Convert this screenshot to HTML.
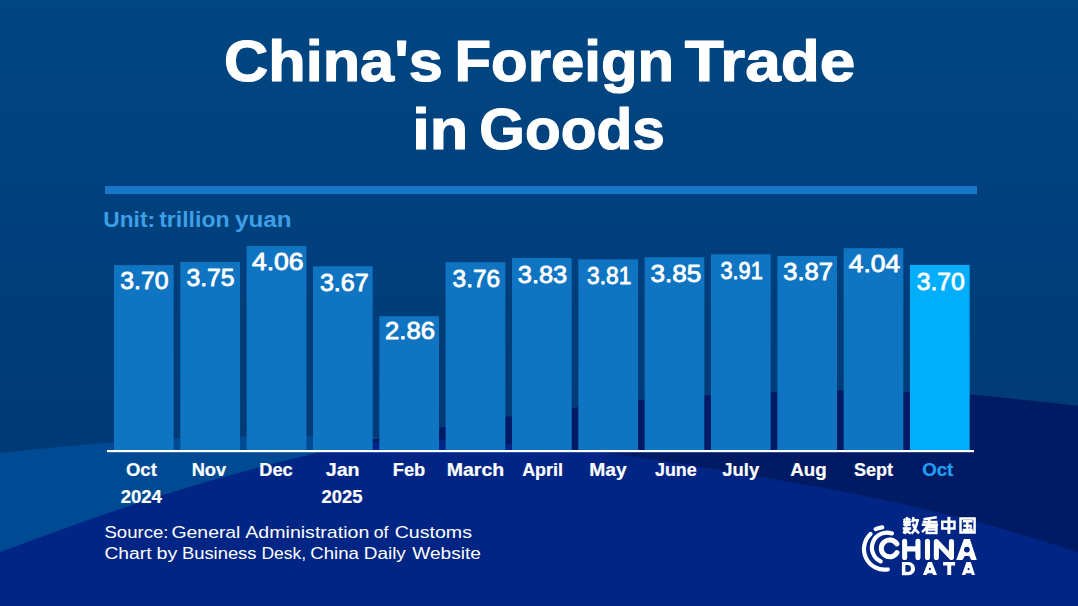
<!DOCTYPE html>
<html><head><meta charset="utf-8"><style>
html,body{margin:0;padding:0;width:1078px;height:606px;overflow:hidden;background:#003d7e}
svg{display:block}
text{font-family:"Liberation Sans",sans-serif}
</style></head><body>
<svg width="1078" height="606" viewBox="0 0 1078 606">
<defs><linearGradient id="bgg" x1="0" y1="0" x2="0" y2="450" gradientUnits="userSpaceOnUse"><stop offset="0" stop-color="#004682"/><stop offset="1" stop-color="#003a76"/></linearGradient></defs>
<rect width="1078" height="606" fill="url(#bgg)"/>
<path d="M-10.0,457.0 C-8.3,456.3 -19.2,455.3 0.0,453.0 C19.2,450.7 75.5,445.4 105.0,443.0 C134.5,440.6 154.0,439.6 177.0,438.6 C200.0,437.6 221.0,437.2 243.0,436.8 C265.0,436.4 287.0,436.4 309.0,436.4 C331.0,436.4 352.8,436.6 375.0,437.0 C397.2,437.4 417.8,437.5 442.0,439.0 C466.2,440.5 487.0,442.5 520.0,446.0 C553.0,449.5 593.3,454.3 640.0,460.0 C686.7,465.7 725.0,470.0 800.0,480.0 C875.0,490.0 1041.7,513.3 1090.0,520.0 L1090,620 L-10,620 Z" fill="#004a94"/>
<path d="M-10.0,640.0 C11.7,624.2 76.7,570.3 120.0,545.0 C163.3,519.7 215.0,502.7 250.0,488.0 C285.0,473.3 309.2,465.2 330.0,457.0 C350.8,448.8 356.3,443.9 375.0,439.0 C393.7,434.1 419.8,431.3 442.0,427.5 C464.2,423.7 486.0,419.7 508.0,416.4 C530.0,413.1 551.8,410.5 574.0,407.8 C596.2,405.1 618.8,402.2 641.0,400.1 C663.2,398.0 684.8,396.6 707.0,395.2 C729.2,393.8 751.8,392.8 774.0,392.0 C796.2,391.2 817.8,390.5 840.0,390.5 C862.2,390.5 885.3,391.3 907.0,392.0 C928.7,392.7 939.5,392.0 970.0,394.5 C1000.5,397.0 1070.0,404.9 1090.0,407.0 L1090,620 L-10,620 Z" fill="#001b64"/>
<path d="M-10.0,556.0 C-8.3,555.3 -21.7,559.8 0.0,552.0 C21.7,544.2 83.3,521.3 120.0,509.0 C156.7,496.7 186.7,487.5 220.0,478.0 C253.3,468.5 294.2,458.1 320.0,452.0 C345.8,445.9 354.7,443.5 375.0,441.5 C395.3,439.5 419.8,439.5 442.0,440.0 C464.2,440.5 480.5,442.3 508.0,444.5 C535.5,446.7 575.0,449.2 607.0,453.0 C639.0,456.8 674.5,463.0 700.0,467.0 C725.5,471.0 737.7,473.2 760.0,477.0 C782.3,480.8 809.5,485.3 834.0,490.0 C858.5,494.7 880.0,498.8 907.0,505.0 C934.0,511.2 965.5,518.5 996.0,527.0 C1026.5,535.5 1074.3,551.2 1090.0,556.0 L1090,620 L-10,620 Z" fill="#002584"/>
<rect x="105" y="186" width="872" height="8" fill="#1776c8"/>
<rect x="114.00" y="265.1" width="59.7" height="184.9" fill="#0f74c1"/><rect x="180.33" y="262.0" width="59.7" height="188.0" fill="#0f74c1"/><rect x="246.66" y="246.1" width="59.7" height="203.9" fill="#0f74c1"/><rect x="312.99" y="266.3" width="59.7" height="183.7" fill="#0f74c1"/><rect x="379.32" y="316.2" width="59.7" height="133.8" fill="#0f74c1"/><rect x="445.65" y="262.2" width="59.7" height="187.8" fill="#0f74c1"/><rect x="511.98" y="258.0" width="59.7" height="192.0" fill="#0f74c1"/><rect x="578.31" y="259.4" width="59.7" height="190.6" fill="#0f74c1"/><rect x="644.64" y="257.3" width="59.7" height="192.7" fill="#0f74c1"/><rect x="710.97" y="254.3" width="59.7" height="195.7" fill="#0f74c1"/><rect x="777.30" y="255.9" width="59.7" height="194.1" fill="#0f74c1"/><rect x="843.63" y="248.2" width="59.7" height="201.8" fill="#0f74c1"/><rect x="909.96" y="264.9" width="59.7" height="185.1" fill="#00aefb"/>
<rect x="107" y="450" width="867" height="2.2" fill="#fff"/>
<text transform="matrix(1.0208,0,0,0.9697,224.05,81.30)" font-size="60" font-weight="bold" fill="#fff" stroke="#fff" stroke-width="1.2" stroke-linejoin="round">China&#39;s</text>
<text transform="matrix(0.9984,0,0,0.9697,454.51,81.30)" font-size="60" font-weight="bold" fill="#fff" stroke="#fff" stroke-width="1.2" stroke-linejoin="round">Foreign</text>
<text transform="matrix(1.0645,0,0,0.9697,684.80,81.30)" font-size="60" font-weight="bold" fill="#fff" stroke="#fff" stroke-width="1.2" stroke-linejoin="round">Trade</text>
<text transform="matrix(1.0505,0,0,0.9600,412.14,149.20)" font-size="60" font-weight="bold" fill="#fff" stroke="#fff" stroke-width="1.2" stroke-linejoin="round">in</text>
<text transform="matrix(0.9762,0,0,0.9600,479.36,149.20)" font-size="60" font-weight="bold" fill="#fff" stroke="#fff" stroke-width="1.2" stroke-linejoin="round">Goods</text>
<text transform="matrix(1.0854,0,0,1.0251,103.24,226.80)" font-size="21" font-weight="bold" fill="#3d9fe6">Unit:</text>
<text transform="matrix(1.0976,0,0,1.0251,159.13,226.80)" font-size="21" font-weight="bold" fill="#3d9fe6">trillion</text>
<text transform="matrix(1.1537,0,0,1.0251,235.11,226.80)" font-size="21" font-weight="bold" fill="#3d9fe6">yuan</text>
<text transform="matrix(0.9526,0,0,0.9514,120.30,288.61)" font-size="26" font-weight="normal" fill="#fff" stroke="#fff" stroke-width="0.9" stroke-linejoin="round">3.70</text>
<text transform="matrix(0.9505,0,0,0.9514,186.50,285.91)" font-size="26" font-weight="normal" fill="#fff" stroke="#fff" stroke-width="0.9" stroke-linejoin="round">3.75</text>
<text transform="matrix(1.0224,0,0,0.9514,251.94,270.46)" font-size="26" font-weight="normal" fill="#fff" stroke="#fff" stroke-width="0.9" stroke-linejoin="round">4.06</text>
<text transform="matrix(0.9637,0,0,0.9514,319.89,290.86)" font-size="26" font-weight="normal" fill="#fff" stroke="#fff" stroke-width="0.9" stroke-linejoin="round">3.67</text>
<text transform="matrix(0.9886,0,0,0.9514,385.01,338.92)" font-size="26" font-weight="normal" fill="#fff" stroke="#fff" stroke-width="0.9" stroke-linejoin="round">2.86</text>
<text transform="matrix(0.9402,0,0,0.9514,452.61,286.71)" font-size="26" font-weight="normal" fill="#fff" stroke="#fff" stroke-width="0.9" stroke-linejoin="round">3.76</text>
<text transform="matrix(0.9773,0,0,0.9514,517.77,282.51)" font-size="26" font-weight="normal" fill="#fff" stroke="#fff" stroke-width="0.9" stroke-linejoin="round">3.83</text>
<text transform="matrix(0.8746,0,0,0.9514,587.08,283.86)" font-size="26" font-weight="normal" fill="#fff" stroke="#fff" stroke-width="0.9" stroke-linejoin="round">3.81</text>
<text transform="matrix(1.0062,0,0,0.9514,650.44,282.16)" font-size="26" font-weight="normal" fill="#fff" stroke="#fff" stroke-width="0.9" stroke-linejoin="round">3.85</text>
<text transform="matrix(0.8373,0,0,0.9514,720.41,278.52)" font-size="26" font-weight="normal" fill="#fff" stroke="#fff" stroke-width="0.9" stroke-linejoin="round">3.91</text>
<text transform="matrix(0.9824,0,0,0.9514,783.27,279.91)" font-size="26" font-weight="normal" fill="#fff" stroke="#fff" stroke-width="0.9" stroke-linejoin="round">3.87</text>
<text transform="matrix(1.0173,0,0,0.9514,848.74,272.21)" font-size="26" font-weight="normal" fill="#fff" stroke="#fff" stroke-width="0.9" stroke-linejoin="round">4.04</text>
<text transform="matrix(0.9505,0,0,0.9514,916.70,289.66)" font-size="26" font-weight="normal" fill="#fff" stroke="#fff" stroke-width="0.9" stroke-linejoin="round">3.70</text>
<text transform="matrix(1.0873,0,0,1.0267,125.98,475.80)" font-size="17" font-weight="bold" fill="#fff" stroke="#fff" stroke-width="0.2" stroke-linejoin="round">Oct</text>
<text transform="matrix(1.0742,0,0,1.0267,191.63,475.80)" font-size="17" font-weight="bold" fill="#fff" stroke="#fff" stroke-width="0.2" stroke-linejoin="round">Nov</text>
<text transform="matrix(1.0723,0,0,1.0267,259.23,475.80)" font-size="17" font-weight="bold" fill="#fff" stroke="#fff" stroke-width="0.2" stroke-linejoin="round">Dec</text>
<text transform="matrix(1.1571,0,0,1.0267,325.71,475.80)" font-size="17" font-weight="bold" fill="#fff" stroke="#fff" stroke-width="0.2" stroke-linejoin="round">Jan</text>
<text transform="matrix(1.0737,0,0,1.0267,392.83,475.80)" font-size="17" font-weight="bold" fill="#fff" stroke="#fff" stroke-width="0.2" stroke-linejoin="round">Feb</text>
<text transform="matrix(1.1479,0,0,1.0267,446.75,475.80)" font-size="17" font-weight="bold" fill="#fff" stroke="#fff" stroke-width="0.2" stroke-linejoin="round">March</text>
<text transform="matrix(1.0541,0,0,1.0267,522.17,475.80)" font-size="17" font-weight="bold" fill="#fff" stroke="#fff" stroke-width="0.2" stroke-linejoin="round">April</text>
<text transform="matrix(1.1344,0,0,1.0267,589.17,475.80)" font-size="17" font-weight="bold" fill="#fff" stroke="#fff" stroke-width="0.2" stroke-linejoin="round">May</text>
<text transform="matrix(1.0513,0,0,1.0267,654.94,475.80)" font-size="17" font-weight="bold" fill="#fff" stroke="#fff" stroke-width="0.2" stroke-linejoin="round">June</text>
<text transform="matrix(1.0844,0,0,1.0267,722.33,475.80)" font-size="17" font-weight="bold" fill="#fff" stroke="#fff" stroke-width="0.2" stroke-linejoin="round">July</text>
<text transform="matrix(1.1016,0,0,1.0267,790.25,475.80)" font-size="17" font-weight="bold" fill="#fff" stroke="#fff" stroke-width="0.2" stroke-linejoin="round">Aug</text>
<text transform="matrix(1.0621,0,0,1.0267,853.97,475.80)" font-size="17" font-weight="bold" fill="#fff" stroke="#fff" stroke-width="0.2" stroke-linejoin="round">Sept</text>
<text transform="matrix(1.0982,0,0,1.0267,922.18,475.80)" font-size="17" font-weight="bold" fill="#22a0f2" stroke="#22a0f2" stroke-width="0.2" stroke-linejoin="round">Oct</text>
<text transform="matrix(1.0926,0,0,1.0367,120.65,502.94)" font-size="17" font-weight="bold" fill="#fff" stroke="#fff" stroke-width="0.2" stroke-linejoin="round">2024</text>
<text transform="matrix(1.0830,0,0,1.0367,321.46,502.89)" font-size="17" font-weight="bold" fill="#fff" stroke="#fff" stroke-width="0.2" stroke-linejoin="round">2025</text>
<text transform="matrix(1.0933,0,0,1.0011,104.48,537.70)" font-size="17" font-weight="normal" fill="#fff">Source:</text>
<text transform="matrix(1.1402,0,0,1.0011,171.54,537.70)" font-size="17" font-weight="normal" fill="#fff">General</text>
<text transform="matrix(1.1521,0,0,1.0011,245.30,537.70)" font-size="17" font-weight="normal" fill="#fff">Administration</text>
<text transform="matrix(1.0370,0,0,1.0011,373.72,537.70)" font-size="17" font-weight="normal" fill="#fff">of</text>
<text transform="matrix(1.1544,0,0,1.0011,394.63,537.70)" font-size="17" font-weight="normal" fill="#fff">Customs</text>
<text transform="matrix(1.1337,0,0,1.0011,104.45,559.40)" font-size="17" font-weight="normal" fill="#fff">Chart</text>
<text transform="matrix(1.1642,0,0,1.0011,156.54,559.40)" font-size="17" font-weight="normal" fill="#fff">by</text>
<text transform="matrix(1.0821,0,0,1.0011,181.88,559.40)" font-size="17" font-weight="normal" fill="#fff">Business</text>
<text transform="matrix(1.0296,0,0,1.0011,261.46,559.40)" font-size="17" font-weight="normal" fill="#fff">Desk,</text>
<text transform="matrix(1.0971,0,0,1.0011,310.18,559.40)" font-size="17" font-weight="normal" fill="#fff">China</text>
<text transform="matrix(1.1145,0,0,1.0011,363.73,559.40)" font-size="17" font-weight="normal" fill="#fff">Daily</text>
<text transform="matrix(1.1220,0,0,1.0011,412.30,559.40)" font-size="17" font-weight="normal" fill="#fff">Website</text>
<path d="M870.55,534.03 A20.6,20.6 0 0 0 887.82,569.45 M875.73,529.18 A21.8,21.8 0 0 1 882.32,527.42 M892.02,533.42 A15.1,15.1 0 0 0 880.72,561.39" stroke="#fff" stroke-width="4.2" fill="none" stroke-linecap="round"/>
<path d="M896.87,543.92 A8.45,8.45 0 1 0 897.02,552.62" stroke="#fff" stroke-width="5" fill="none" stroke-linecap="round"/>
<path d="M904.65,541.4 V557.4 M917.95,541.4 V557.4 M904.65,548.9 H917.95 M927.5,541.4 V557.4 M936.35,557.4 V541.6 L951.45,557.4 V541.6" stroke="#fff" stroke-width="5.1" fill="none" stroke-linejoin="round" stroke-linecap="round" transform="translate(0,0)"/>
<path d="M956.2,559.9 L963.9,539 L969.9,539 L976.8,559.9 L971.3,559.9 L969.2,556 L964.8,556 L962.5,559.9 Z M964,549.6 a2.9,2.9 0 1 0 5.8,0 a2.9,2.9 0 1 0 -5.8,0 Z" fill="#fff" fill-rule="evenodd"/>
<path d="M901.9,562.1 H908.5 A6.6,6.6 0 0 1 908.5,575.3 H901.9 Z M905.4,565 H907.6 A3.4,3.4 0 0 1 907.6,571.8 H905.4 Z M922.9,575.1 L928,561.9 L931.9,561.9 L937,575.1 L933.1,575.1 L932.3,573.3 L927.6,573.3 L926.8,575.1 Z M928.8,568.9 a1.1,1.1 0 1 0 2.2,0 a1.1,1.1 0 1 0 -2.2,0 Z M943.1,561.9 H955.1 V565.4 H951.2 V575.1 H947.3 V565.4 H943.1 Z M961.8,575.1 L966.4,561.9 L970.7,561.9 L975,575.1 L971.9,575.1 L971.2,573.2 L966,573.2 L965.3,575.1 Z M967.5,569.1 a1.1,1.1 0 1 0 2.2,0 a1.1,1.1 0 1 0 -2.2,0 Z" fill="#fff" fill-rule="evenodd"/>
<g stroke="#fff" stroke-width="2.5" fill="none" stroke-linecap="butt"><path d="M903.8,518.8 L905.3,520.5 M910,518.6 L908.6,520.5 M903,522 H911 M907,517.1 V526.5 M903.5,525.5 L906,523.4 M910.5,525.5 L908,523.4 M902.7,528.6 H911.2 M906.2,526.6 L903.6,533.5 M904.2,529.8 L910.8,533.5 M909.6,528.6 L904.4,533.6"/><path d="M913.6,517.1 L912.3,522.4 M912.6,520.3 H919 M917.3,520.8 Q916.3,528.8 911.5,533.6 M913,523.6 Q914.3,529.3 919,533.4"/><path d="M936.8,517.3 L923.5,519.2 M922.6,521.9 H937.5 M921.8,524.7 H938.1 M929.6,518.8 Q928.3,527.5 922,532 M926.8,526.8 H936.4 V532.9 H926.8 Z M926.8,529.6 H936.4"/><path d="M942.3,521.8 H954.5 V528.4 H942.3 Z"/><path d="M960.5,518.4 H974.6 V532.6 H960.5 Z M962.8,521.3 H972.6 M963.5,525.8 H971.8 M962.6,530 H972.9 M967.3,521.3 V530 M970.2,527.2 L971.3,528.6"/></g>
<path d="M948.9,516.9 V533.9" stroke="#fff" stroke-width="3" fill="none"/>
</svg>
</body></html>
